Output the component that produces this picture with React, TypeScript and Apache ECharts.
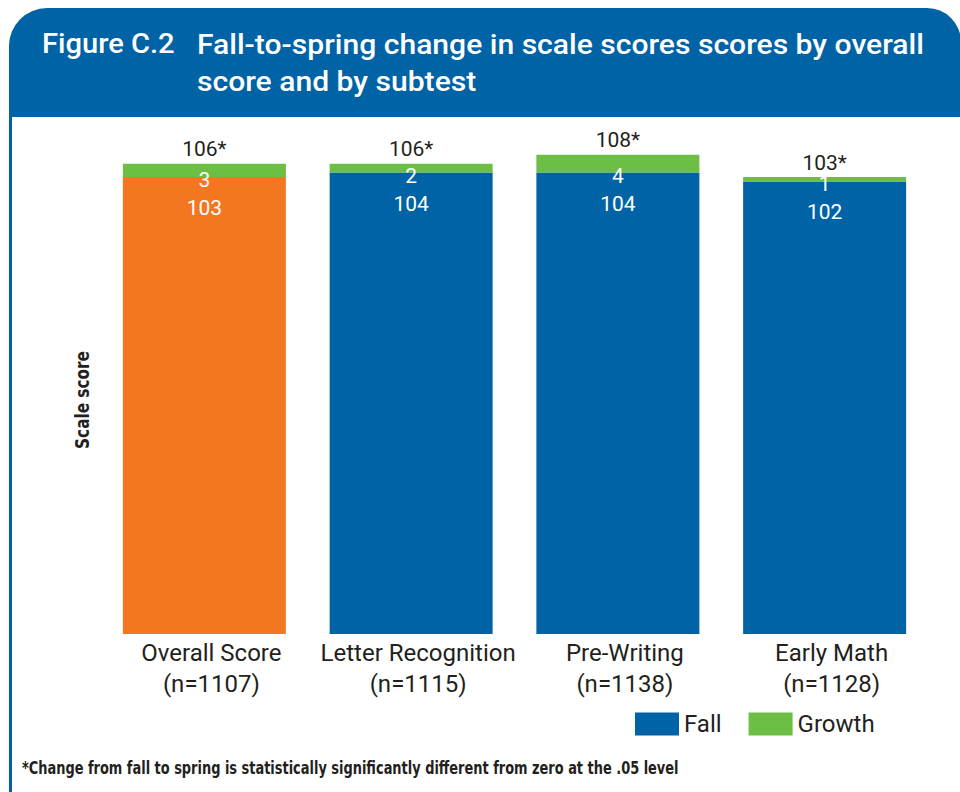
import React, { useEffect, useRef } from "react";
import * as echarts from "echarts";

const categories = ["Overall Score", "Letter Recognition", "Pre-Writing", "Early Math"];
const sampleSizes = ["(n=1107)", "(n=1115)", "(n=1138)", "(n=1128)"];
const fallScores = [103, 104, 104, 102];
const growthScores = [3, 2, 4, 1];
const springLabels = ["106*", "106*", "108*", "103*"];

const BLUE = "#0063A6";
const ORANGE = "#F37721";
const GREEN = "#6CBE45";
const DARK = "#231F20";
const FONT = "Roboto, 'Noto Sans', sans-serif";
const NARROW = "'DejaVu Sans Condensed', 'DejaVu Sans', sans-serif";

export default function App() {
  const ref = useRef<HTMLDivElement>(null);
  useEffect(() => {
    if (!ref.current) return;
    const chart = echarts.init(ref.current, null, { renderer: "svg" });
    const labelsX = categories.map((c, i) => c + "\n" + sampleSizes[i]);
    chart.setOption({
      animation: false,
      backgroundColor: "#ffffff",
      graphic: [
        {
          type: "rect",
          shape: { x: 9, y: 8, width: 952, height: 109, r: [38, 34, 0, 0] },
          style: { fill: BLUE },
          silent: true,
        },
        {
          type: "line",
          shape: { x1: 10.5, y1: 110, x2: 10.5, y2: 800 },
          style: { stroke: BLUE, lineWidth: 3 },
          silent: true,
        },
        {
          type: "text",
          x: 42,
          y: 44,
          scaleX: 1.04,
          style: {
            text: "Figure C.2",
            fill: "#ffffff",
            font: `500 28px ${FONT}`,
            verticalAlign: "middle",
          },
        },
        {
          type: "text",
          x: 197,
          y: 26,
          scaleX: 1.075,
          style: {
            text: "Fall-to-spring change in scale scores scores by overall\nscore and by subtest",
            fill: "#ffffff",
            font: `500 28px ${FONT}`,
            lineHeight: 37,
            verticalAlign: "top",
          },
        },
        {
          type: "text",
          x: 82,
          y: 400,
          rotation: Math.PI / 2,
          scaleX: 0.85,
          style: {
            text: "Scale score",
            fill: DARK,
            font: `bold 20px ${NARROW}`,
            align: "center",
            verticalAlign: "middle",
          },
        },
        {
          type: "text",
          x: 22,
          y: 768,
          scaleX: 0.8,
          style: {
            text: "*Change from fall to spring is statistically significantly different from zero at the .05 level",
            fill: DARK,
            font: `bold 18px ${NARROW}`,
            verticalAlign: "middle",
          },
        },
      ],
      legend: {
        left: 635,
        top: 712,
        padding: 0,
        itemWidth: 44,
        itemHeight: 23,
        itemGap: 27,
        icon: "rect",
        textStyle: { fontFamily: FONT, fontSize: 24, color: DARK },
        data: ["Fall", "Growth"],
      },
      grid: { left: 101, right: 32, top: 146, bottom: 158, containLabel: false },
      xAxis: {
        type: "category",
        data: labelsX,
        axisLine: { show: false },
        axisTick: { show: false },
        axisLabel: {
          fontFamily: FONT,
          fontSize: 24,
          lineHeight: 31,
          color: DARK,
          margin: 3,
          padding: [0, 0, 0, 14],
          interval: 0,
        },
      },
      yAxis: {
        type: "value",
        min: 0,
        max: 110,
        show: false,
        splitLine: { show: false },
      },
      series: [
        {
          name: "Fall",
          type: "bar",
          stack: "total",
          barWidth: 163,
          itemStyle: { color: BLUE },
          data: fallScores.map((v, i) => ({
            value: v,
            itemStyle: { color: i === 0 ? ORANGE : BLUE },
          })),
          label: {
            show: true,
            position: "insideTop",
            distance: 0,
            offset: [0, -11],
            formatter: (p: any) => `{g|${growthScores[p.dataIndex]}}\n{f|${p.value}}`,
            rich: {
              g: { fontFamily: FONT, fontSize: 21, lineHeight: 28, color: "#ffffff" },
              f: { fontFamily: FONT, fontSize: 21, lineHeight: 28, color: "#ffffff" },
            },
          },
        },
        {
          name: "Growth",
          type: "bar",
          stack: "total",
          barWidth: 163,
          itemStyle: { color: GREEN },
          data: growthScores,
          label: {
            show: true,
            position: "top",
            distance: 4,
            formatter: (p: any) => springLabels[p.dataIndex],
            fontFamily: FONT,
            fontSize: 21,
            color: DARK,
          },
        },
      ],
    });
    return () => chart.dispose();
  }, []);
  return (
    <div
      ref={ref}
      style={{ position: "fixed", left: 0, top: 0, width: 960, height: 792 }}
    />
  );
}
